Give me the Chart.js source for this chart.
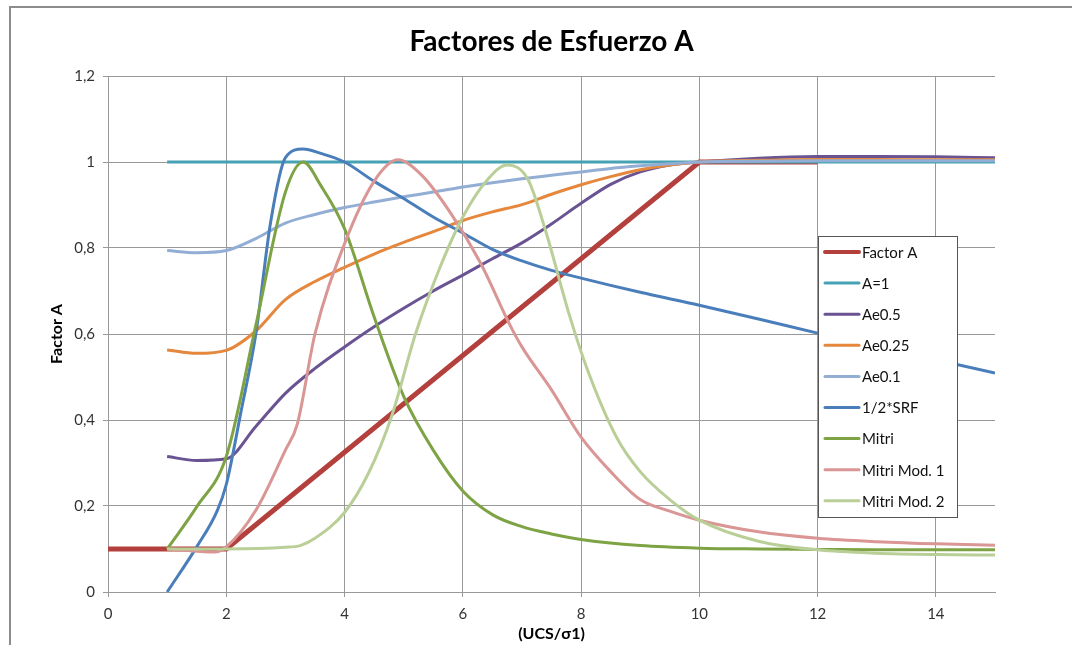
<!DOCTYPE html>
<html>
<head>
<meta charset="utf-8">
<script src="https://cdn.jsdelivr.net/npm/chart.js@4/dist/chart.umd.min.js"></script>
<style>
  html, body { margin: 0; padding: 0; background: #ffffff; }
  #wrap { width: 1072px; height: 645px; position: relative; }
</style>
</head>
<body>
<div id="wrap"><canvas id="c"></canvas></div>
<script>
// ---- Data ----
const seriesNames = ['Factor A', 'A=1', 'Ae0.5', 'Ae0.25', 'Ae0.1', '1/2*SRF', 'Mitri', 'Mitri Mod. 1', 'Mitri Mod. 2'];

const xFactorA = [0, 2, 10, 12];
const factorA  = [0.1, 0.1, 1.0, 1.0];

const xA1 = [1, 15];
const a1  = [1, 1];

const xAe   = [1, 1.5, 2, 2.5, 3, 3.5, 4, 4.5, 5, 5.5, 6, 6.5, 7, 7.5, 8, 8.5, 9, 9.5, 10, 11, 12, 13, 14, 15];
const ae05  = [0.315, 0.306, 0.31, 0.385, 0.462, 0.52, 0.57, 0.617, 0.66, 0.70, 0.737, 0.775, 0.812, 0.856, 0.904, 0.948, 0.977, 0.993, 1.0, 1.009, 1.013, 1.013, 1.012, 1.01];
const ae025 = [0.563, 0.555, 0.562, 0.607, 0.68, 0.722, 0.755, 0.786, 0.813, 0.838, 0.864, 0.884, 0.901, 0.925, 0.947, 0.966, 0.982, 0.993, 1.0, 1.004, 1.006, 1.006, 1.005, 1.005];
const ae01  = [0.794, 0.789, 0.794, 0.822, 0.858, 0.878, 0.894, 0.907, 0.919, 0.93, 0.942, 0.952, 0.961, 0.969, 0.977, 0.985, 0.991, 0.996, 1.0, 1.002, 1.003, 1.003, 1.003, 1.003];

const xSRF = [1, 1.5, 1.85, 2, 2.25, 2.5, 2.75, 3, 3.3, 3.6, 4, 4.5, 5, 5.5, 6, 6.5, 7, 7.5, 8, 9, 10, 11, 12, 13, 14, 15];
const srf  = [0, 0.105, 0.19, 0.25, 0.42, 0.6, 0.86, 1.01, 1.03, 1.02, 1.0, 0.955, 0.915, 0.872, 0.835, 0.797, 0.77, 0.748, 0.73, 0.697, 0.667, 0.635, 0.602, 0.571, 0.54, 0.509];

const xMitri = [1, 1.5, 2, 2.5, 3, 3.3, 3.6, 4, 4.5, 5, 5.5, 6, 6.5, 7, 7.5, 8, 9, 10, 11, 12, 13, 14, 15];
const mitri  = [0.1, 0.198, 0.315, 0.62, 0.93, 1.0, 0.945, 0.845, 0.64, 0.455, 0.33, 0.235, 0.18, 0.152, 0.135, 0.122, 0.108, 0.102, 0.1, 0.099, 0.098, 0.098, 0.098];

const xMod1 = [1, 1.5, 1.8, 2, 2.5, 3, 3.2, 3.5, 4, 4.5, 4.9, 5.3, 5.8, 6.3, 6.8, 7, 7.5, 8, 8.5, 9, 9.5, 10, 11, 12, 13, 14, 15];
const mod1  = [0.1, 0.095, 0.093, 0.105, 0.19, 0.33, 0.39, 0.6, 0.81, 0.955, 1.005, 0.97, 0.88, 0.765, 0.62, 0.57, 0.47, 0.36, 0.28, 0.215, 0.188, 0.167, 0.14, 0.125, 0.117, 0.112, 0.109];

const xMod2 = [1, 2, 3, 3.25, 3.5, 4, 4.4, 4.8, 5.2, 5.6, 6, 6.4, 6.75, 7.1, 7.4, 7.8, 8.1, 8.6, 9, 9.5, 10, 11, 12, 13, 14, 15];
const mod2  = [0.1, 0.1, 0.104, 0.108, 0.125, 0.185, 0.275, 0.41, 0.6, 0.75, 0.872, 0.956, 0.993, 0.96, 0.84, 0.645, 0.52, 0.36, 0.28, 0.215, 0.167, 0.118, 0.098, 0.09, 0.087, 0.086];

const xTicks = [0, 2, 4, 6, 8, 10, 12, 14];
const yTicks = [0, 0.2, 0.4, 0.6, 0.8, 1, 1.2];

const seriesX = [xFactorA, xA1, xAe, xAe, xAe, xSRF, xMitri, xMod1, xMod2];
const seriesY = [factorA, a1, ae05, ae025, ae01, srf, mitri, mod1, mod2];
const colors  = ['#B3403D', '#47A1B4', '#6A5393', '#E5873D', '#93AED5', '#4A7EBB', '#7EA345', '#D99694', '#BACF98'];
const widths  = [5, 3, 3, 3, 3, 3, 3, 3, 3];
const smooth  = [false, false, true, true, true, true, true, true, true];

const FONT = 'Lato, "Liberation Sans", sans-serif';

const datasets = seriesNames.map((name, i) => ({
  label: name,
  data: seriesX[i].map((x, j) => ({ x: x, y: seriesY[i][j] })),
  borderColor: colors[i],
  backgroundColor: colors[i],
  borderWidth: widths[i],
  pointRadius: 0,
  fill: false,
  tension: 0,
  cubicInterpolationMode: smooth[i] ? 'monotone' : 'default',
  order: seriesNames.length - 1 - i
}));

const framePlugin = {
  id: 'frame',
  beforeDraw(chart) {
    const ctx = chart.ctx;
    ctx.save();
    ctx.strokeStyle = '#8c8c8c';
    ctx.lineWidth = 2;
    ctx.beginPath();
    ctx.moveTo(10, 645);
    ctx.lineTo(10, 7);
    ctx.lineTo(1072, 7);
    ctx.stroke();
    ctx.restore();
  }
};

const boxLegend = {
  id: 'boxLegend',
  afterDatasetsDraw(chart) {
    const ctx = chart.ctx;
    const left = 818.5, top = 236.5, w = 139, h = 281;
    ctx.save();
    ctx.fillStyle = '#ffffff';
    ctx.fillRect(left, top, w, h);
    ctx.strokeStyle = '#555555';
    ctx.lineWidth = 1;
    ctx.strokeRect(left, top, w, h);
    ctx.font = '15px ' + FONT;
    ctx.textBaseline = 'middle';
    ctx.textAlign = 'left';
    chart.data.datasets.forEach((ds, i) => {
      const y = 252 + i * 31.1;
      ctx.strokeStyle = ds.borderColor;
      ctx.lineWidth = i === 0 ? 4 : 3;
      ctx.lineCap = 'round';
      ctx.beginPath();
      ctx.moveTo(825, y);
      ctx.lineTo(859, y);
      ctx.stroke();
      ctx.fillStyle = '#111111';
      ctx.fillText(ds.label, 862, y + 1);
    });
    ctx.restore();
  }
};

const fmt = v => {
  const r = Math.round(v * 10) / 10;
  return String(r).replace('.', ',');
};

new Chart(document.getElementById('c'), {
  type: 'line',
  data: { datasets: datasets },
  plugins: [framePlugin, boxLegend],
  options: {
    responsive: true,
    maintainAspectRatio: false,
    animation: false,
    layout: { padding: { left: 40, right: 77, top: 0, bottom: 0 } },
    plugins: {
      legend: { display: false },
      tooltip: { enabled: false },
      title: {
        display: true,
        fullSize: false,
        text: 'Factores de Esfuerzo A',
        color: '#000000',
        font: { family: FONT, size: 28, weight: 'bold', lineHeight: 1.1 },
        padding: { top: 27, bottom: 18.2 }
      }
    },
    scales: {
      x: {
        type: 'linear',
        min: 0,
        max: 15,
        afterFit: s => { s.height = 53; },
        afterBuildTicks: s => { s.ticks = xTicks.map(v => ({ value: v })); },
        ticks: { color: '#333333', font: { family: FONT, size: 15 }, padding: 8, maxRotation: 0 },
        grid: { color: '#999999', lineWidth: 1, tickLength: 5, drawTicks: true },
        border: { color: '#999999', width: 1 },
        title: {
          display: true,
          text: '(UCS/σ1)',
          color: '#000000',
          font: { family: FONT, size: 16, weight: 'bold', lineHeight: 1.1 },
          padding: { top: 2, bottom: 2 }
        }
      },
      y: {
        type: 'linear',
        min: 0,
        max: 1.2,
        afterFit: s => { s.width = 68; },
        afterBuildTicks: s => { s.ticks = yTicks.map(v => ({ value: v })); },
        ticks: { color: '#333333', font: { family: FONT, size: 15 }, padding: 8, callback: v => fmt(v) },
        grid: { color: '#999999', lineWidth: 1, tickLength: 5, drawTicks: true },
        border: { color: '#999999', width: 1 },
        title: {
          display: true,
          text: 'Factor A',
          color: '#000000',
          font: { family: FONT, size: 16, weight: 'bold', lineHeight: 1.1 },
          padding: { top: 8, bottom: 4 }
        }
      }
    }
  }
});
</script>
</body>
</html>
